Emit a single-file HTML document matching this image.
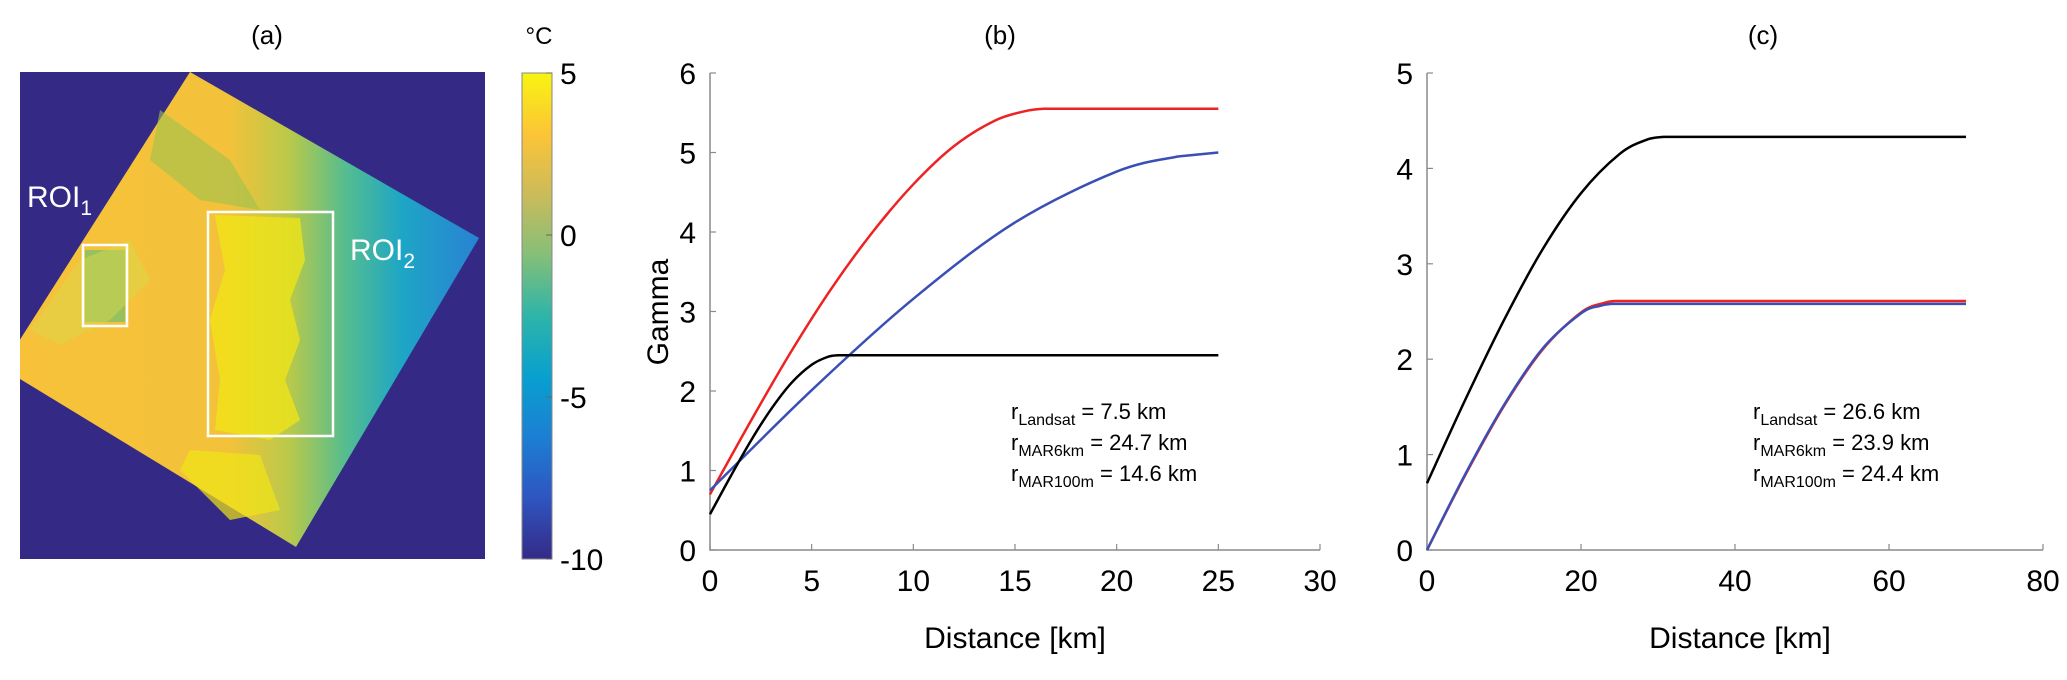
<!DOCTYPE html>
<html><head><meta charset="utf-8"><style>
html,body{margin:0;padding:0;background:#fff;}
svg{display:block;font-family:"Liberation Sans",Arial,sans-serif;}
</style></head><body>
<svg id="fig" width="2067" height="680" viewBox="0 0 2067 680" xmlns="http://www.w3.org/2000/svg">
<defs>
<linearGradient id="landGrad" x1="20" y1="0" x2="485" y2="0" gradientUnits="userSpaceOnUse">
<stop offset="0" stop-color="#f7c23a"/><stop offset="0.45" stop-color="#f3c23a"/>
<stop offset="0.58" stop-color="#b9c94a"/><stop offset="0.7" stop-color="#55bd8f"/>
<stop offset="0.82" stop-color="#1ea6c6"/><stop offset="1" stop-color="#2a7fd4"/>
</linearGradient>
<linearGradient id="cbGrad" x1="0" y1="1" x2="0" y2="0">
<stop offset="0" stop-color="#352a87"/><stop offset="0.125" stop-color="#2f55c0"/>
<stop offset="0.25" stop-color="#1c7fd3"/><stop offset="0.375" stop-color="#08a0cf"/>
<stop offset="0.5" stop-color="#2db5a9"/><stop offset="0.625" stop-color="#85bf78"/>
<stop offset="0.75" stop-color="#cbbb5b"/><stop offset="0.875" stop-color="#fcc536"/>
<stop offset="1" stop-color="#f8f410"/>
</linearGradient>
<clipPath id="mapClip"><rect x="20" y="72" width="465" height="487"/></clipPath>
</defs>

<!-- Panel (a) -->
<text x="267" y="44" font-size="26" text-anchor="middle">(a)</text>
<g clip-path="url(#mapClip)">
<rect x="20" y="72" width="465" height="487" fill="#342a86"/>
<polygon points="190,72 479,238 296,547 2,368" fill="url(#landGrad)"/>
<path d="M215,215 L300,218 L305,260 L290,300 L300,340 L285,380 L300,420 L270,440 L215,430 L220,380 L210,320 L225,270 Z" fill="#f0e516" opacity="0.75"/>
<path d="M160,110 L230,160 L260,210 L200,200 L150,160 Z" fill="#9cc24e" opacity="0.6"/>
<path d="M85,250 L125,250 L125,322 L85,322 Z" fill="#6fbf72" opacity="0.7"/>
<path d="M30,330 L80,260 L130,240 L150,280 L110,320 L60,345 Z" fill="#d9d84a" opacity="0.5"/>
<path d="M190,450 L260,455 L280,510 L230,520 L180,470 Z" fill="#f0e516" opacity="0.7"/>
</g>
<rect x="83" y="245" width="44" height="81" fill="none" stroke="#fff" stroke-width="2.5"/>
<rect x="208" y="212" width="125" height="224" fill="none" stroke="#fff" stroke-width="2.5"/>
<text x="27" y="207" font-size="30" fill="#fff">ROI<tspan font-size="21" dy="8">1</tspan></text>
<text x="350" y="260" font-size="30" fill="#fff">ROI<tspan font-size="21" dy="8">2</tspan></text>

<g>
<rect x="522" y="73" width="30" height="486" fill="url(#cbGrad)" stroke="#888" stroke-width="1"/>
<text x="539" y="44" font-size="24" text-anchor="middle">°C</text>
<g id="cbTicks" font-size="30"></g>
</g>

<!-- Panel (b) -->
<text x="1000" y="44" font-size="26" text-anchor="middle">(b)</text>
<g id="panelB"></g>
<text transform="translate(668,312) rotate(-90)" font-size="30" text-anchor="middle">Gamma</text>
<text x="1015" y="648" font-size="30" text-anchor="middle">Distance [km]</text>
<g font-size="22">
<text x="1011" y="419">r<tspan font-size="16" dy="6">Landsat</tspan><tspan dy="-6"> = 7.5 km</tspan></text>
<text x="1011" y="450">r<tspan font-size="16" dy="6">MAR6km</tspan><tspan dy="-6"> = 24.7 km</tspan></text>
<text x="1011" y="481">r<tspan font-size="16" dy="6">MAR100m</tspan><tspan dy="-6"> = 14.6 km</tspan></text>
</g>

<!-- Panel (c) -->
<text x="1763" y="44" font-size="26" text-anchor="middle">(c)</text>
<g id="panelC"></g>
<text x="1740" y="648" font-size="30" text-anchor="middle">Distance [km]</text>
<g font-size="22">
<text x="1753" y="419">r<tspan font-size="16" dy="6">Landsat</tspan><tspan dy="-6"> = 26.6 km</tspan></text>
<text x="1753" y="450">r<tspan font-size="16" dy="6">MAR6km</tspan><tspan dy="-6"> = 23.9 km</tspan></text>
<text x="1753" y="481">r<tspan font-size="16" dy="6">MAR100m</tspan><tspan dy="-6"> = 24.4 km</tspan></text>
</g>
</svg>
<script>
var NS = "http://www.w3.org/2000/svg";
var cbTickValues = [5, 0, -5, -10];
var bXTicks = [0, 5, 10, 15, 20, 25, 30];
var bYTicks = [0, 1, 2, 3, 4, 5, 6];
var bRedX = [0, 2, 4, 6, 8, 10, 12, 14, 15.5, 16.4, 25];
var bRedY = [0.7, 1.62, 2.5, 3.3, 4.0, 4.6, 5.08, 5.4, 5.52, 5.55, 5.55];
var bBlueX = [0, 5, 10, 15, 20, 23, 25];
var bBlueY = [0.75, 2.01, 3.16, 4.12, 4.76, 4.95, 5.0];
var bBlackX = [0, 1, 2, 3, 4, 5, 5.8, 6.3, 25];
var bBlackY = [0.45, 0.92, 1.37, 1.77, 2.1, 2.33, 2.43, 2.45, 2.45];
var cXTicks = [0, 20, 40, 60, 80];
var cYTicks = [0, 1, 2, 3, 4, 5];
var cBlackX = [0, 5, 10, 15, 20, 25, 28.5, 30.7, 70];
var cBlackY = [0.7, 1.58, 2.41, 3.15, 3.74, 4.15, 4.3, 4.33, 4.33];
var cRedX = [0, 5, 10, 15, 20, 23, 24.4, 70];
var cRedY = [0, 0.79, 1.51, 2.1, 2.49, 2.59, 2.61, 2.61];
var cBlueX = [0, 5, 10, 15, 20, 22.5, 23.9, 70];
var cBlueY = [0, 0.8, 1.52, 2.11, 2.48, 2.56, 2.58, 2.58];

function el(tag, attrs, parent) {
  var e = document.createElementNS(NS, tag);
  for (var k in attrs) e.setAttribute(k, attrs[k]);
  parent.appendChild(e);
  return e;
}
var cbG = document.getElementById('cbTicks');
function cbY(v) { return 559 - (v + 10) / 15 * 486; }
cbTickValues.forEach(function (v) {
  var t = el('text', {x: 560, y: cbY(v) + 11, 'font-size': 30}, cbG);
  
  
  t.textContent = v;
  var tk = el('line', {x1: 546, x2: 552, y1: cbY(v), y2: cbY(v), stroke: '#666'}, cbG);
  
  
});

// smooth through the rising points, straight line for the final (flat) segment
function smoothPath(all) {
  var pts = all.slice(0, all.length - 1);
  var n = pts.length;
  var d = 'M' + pts[0][0] + ',' + pts[0][1];
  for (var i = 0; i < n - 1; i++) {
    var p0 = pts[Math.max(i - 1, 0)], p1 = pts[i], p2 = pts[i + 1], p3 = pts[Math.min(i + 2, n - 1)];
    var c1x = p1[0] + (p2[0] - p0[0]) / 6, c1y = p1[1] + (p2[1] - p0[1]) / 6;
    var c2x = p2[0] - (p3[0] - p1[0]) / 6, c2y = p2[1] - (p3[1] - p1[1]) / 6;
    d += ' C' + c1x + ',' + c1y + ' ' + c2x + ',' + c2y + ' ' + p2[0] + ',' + p2[1];
  }
  var last = all[all.length - 1];
  d += ' L' + last[0] + ',' + last[1];
  return d;
}

function drawPanel(gid, x0, x1, xmax, ymax, xt, yt, series, prefix) {
  var g = document.getElementById(gid);
  var y0 = 550, y1 = 73;
  function sx(v) { return x0 + v / xmax * (x1 - x0); }
  function sy(v) { return y0 - v / ymax * (y0 - y1); }
  var ax = el('path', {d: 'M' + x0 + ',' + y1 + ' L' + x0 + ',' + y0 + ' L' + x1 + ',' + y0, fill: 'none', stroke: '#8a8a8a', 'stroke-width': 1.5}, g);
  
  
  xt.forEach(function (v) {
    var l = el('line', {x1: sx(v), x2: sx(v), y1: y0, y2: y0 - 6, stroke: '#8a8a8a', 'stroke-width': 1.2}, g);
    
    
    var t = el('text', {x: sx(v), y: y0 + 41, 'font-size': 30, 'text-anchor': 'middle'}, g);
    
    
    t.textContent = v;
  });
  yt.forEach(function (v) {
    var l = el('line', {x1: x0, x2: x0 + 6, y1: sy(v), y2: sy(v), stroke: '#8a8a8a', 'stroke-width': 1.2}, g);
    
    
    var t = el('text', {x: x0 - 14, y: sy(v) + 11, 'font-size': 30, 'text-anchor': 'end'}, g);
    
    
    t.textContent = v;
  });
  series.forEach(function (s) {
    var pts = s.xs.map(function (x, i) { return [sx(x), sy(s.ys[i])]; });
    var p = el('path', {d: smoothPath(pts), fill: 'none', stroke: s.color, 'stroke-width': 2.5, 'stroke-linejoin': 'round'}, g);
    
    
  });
}
drawPanel('panelB', 710, 1320, 30, 6, bXTicks, bYTicks, [
  {xs: bRedX, ys: bRedY, color: '#ee2222', name: 'b-mar6km-line'},
  {xs: bBlueX, ys: bBlueY, color: '#3a4fb5', name: 'b-mar100m-line'},
  {xs: bBlackX, ys: bBlackY, color: '#000', name: 'b-landsat-line'}
], 'b');
drawPanel('panelC', 1427, 2043, 80, 5, cXTicks, cYTicks, [
  {xs: cBlackX, ys: cBlackY, color: '#000', name: 'c-landsat-line'},
  {xs: cRedX, ys: cRedY, color: '#ee2222', name: 'c-mar100m-line'},
  {xs: cBlueX, ys: cBlueY, color: '#3a4fb5', name: 'c-mar6km-line'}
], 'c');
</script>
</body></html>
